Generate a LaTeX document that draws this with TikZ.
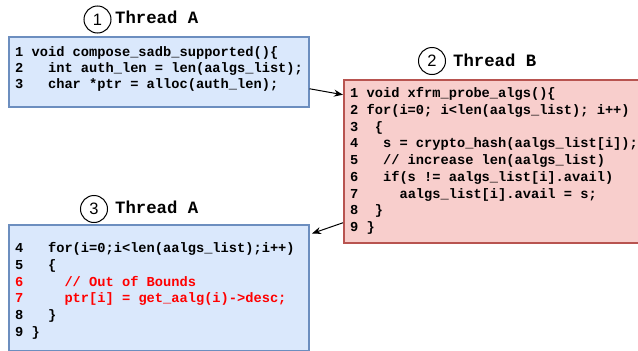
\documentclass[tikz,border=0pt]{standalone}
\usepackage{fontspec}
\setmainfont{Liberation Sans}
\setmonofont{Liberation Mono}
\usetikzlibrary{arrows.meta}
\definecolor{bluefill}{HTML}{DAE8FC}
\definecolor{bluedraw}{HTML}{6C8EBF}
\definecolor{redfill}{HTML}{F8CECC}
\definecolor{reddraw}{HTML}{B85450}
\definecolor{codered}{HTML}{FF0000}
\tikzset{
  bluebox/.style={draw=bluedraw, fill=bluefill, line width=1.5pt, rectangle, inner sep=0pt, anchor=north west},
  redbox/.style={draw=reddraw, fill=redfill, line width=1.5pt, rectangle, inner sep=0pt, anchor=north west},
  codetext/.style={inner sep=0pt, anchor=base west, align=left, font=\ttfamily\bfseries\fontsize{13.7}{#1}\selectfont},
  numcircle/.style={draw=black, line width=1pt, circle, minimum size=27pt, inner sep=0pt, font=\fontsize{16.5}{18}\selectfont},
  title/.style={inner sep=0pt, anchor=base west, font=\ttfamily\bfseries\fontsize{17.3}{20}\selectfont},
  arr/.style={draw=black, line width=1pt, -{Stealth[length=9pt,width=7pt]}}
}
\begin{document}
\begin{tikzpicture}[x=1pt,y=-1pt]
\useasboundingbox (0,0) rectangle (638,351);
% boxes
\node[bluebox, minimum width=300pt, minimum height=70pt] (b1) at (8,36) {};
\node[redbox, minimum width=310pt, minimum height=163pt] (b2) at (343,79) {};
\node[bluebox, minimum width=300pt, minimum height=126pt] (b3) at (8,224) {};
% titles
\node[numcircle] (c1) at (97.5,19.5) {1};
\node[title] (t1) at (115,23) {Thread A};
\node[numcircle] (c2) at (432,61) {2};
\node[title] (t2) at (453,66.5) {Thread B};
\node[numcircle] (c3) at (94,209) {3};
\node[title] (t3) at (115,213.3) {Thread A};
% code (anchored at the baseline of the last line)
\node[codetext=16] (code1) at (15,88.5) {%
1~void~compose\_sadb\_supported()\{\\
2~~~int~auth\_len~=~len(aalgs\_list);\\
3~~~char~*ptr~=~alloc(auth\_len);};
\node[codetext=16.75] (code2) at (350,231.5) {%
1~void~xfrm\_probe\_algs()\{\\
2~for(i=0;~i<len(aalgs\_list);~i++)\\
3~~\{\\
4~~~s~=~crypto\_hash(aalgs\_list[i]);\\
5~~~//~increase~len(aalgs\_list)\\
6~~~if(s~!=~aalgs\_list[i].avail)\\
7~~~~~aalgs\_list[i].avail~=~s;\\
8~~\}\\
9~\}};
\node[codetext=16.8] (code3) at (15,336.5) {%
4~~~for(i=0;i<len(aalgs\_list);i++)\\
5~~~\{\\
\textcolor{codered}{6~~~~~//~Out~of~Bounds}\\
\textcolor{codered}{7~~~~~ptr[i]~=~get\_aalg(i)->desc;}\\
8~~~\}\\
9~\}};
% arrows
\coordinate (a2end) at (312,233.5);
\draw[arr] ([yshift=-17pt]b1.east) -- ([yshift=66.5pt]b2.west);
\draw[arr] ([yshift=-61.5pt]b2.west) -- (a2end);
\end{tikzpicture}
\end{document}
